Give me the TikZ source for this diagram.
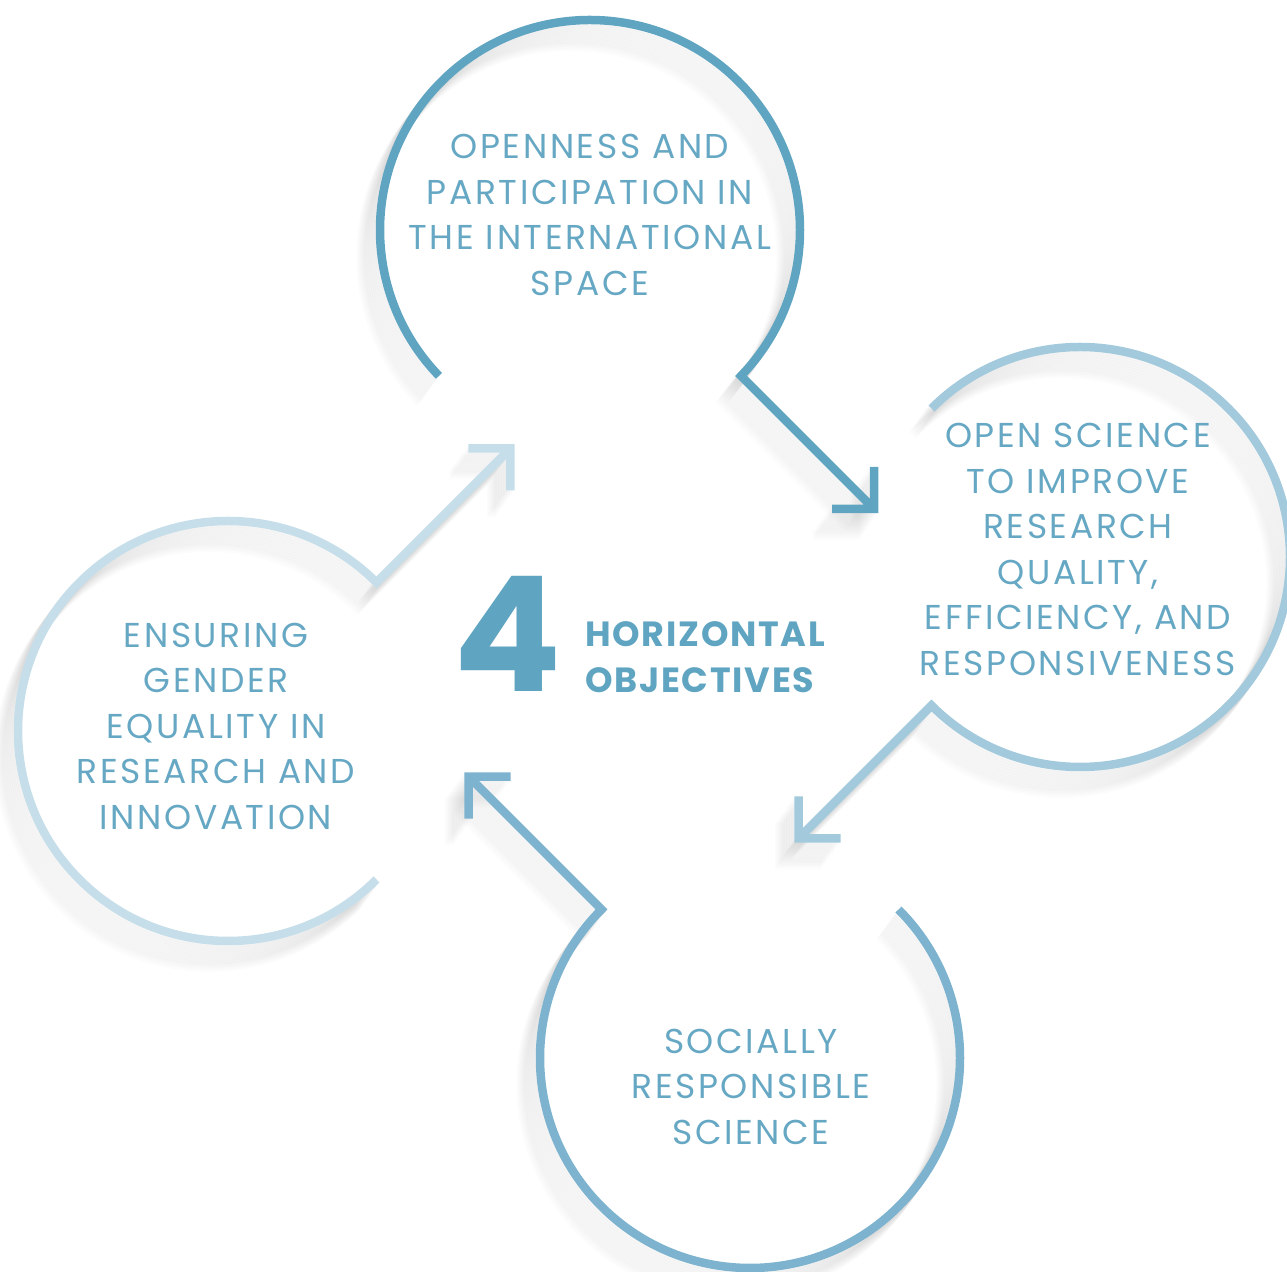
\documentclass[tikz,border=0pt]{standalone}
\usepackage{fontspec}
\setmainfont{Poppins}[UprightFont=*, BoldFont=* Bold, LetterSpace=7.5]
\definecolor{cA}{HTML}{5FA4C1}
\definecolor{cB}{HTML}{A2C9DC}
\definecolor{cC}{HTML}{7DB3CE}
\definecolor{cD}{HTML}{C5DEE9}
\definecolor{txt}{HTML}{66A8C4}
\begin{document}
\begin{tikzpicture}[x=1pt,y=1pt,line join=miter,
  ring/.style={line width=8.5pt},
  shade/.style={line width=9pt,black,opacity=0.011},
  lbl/.style={text=txt,font=\fontsize{34.5}{45.5}\selectfont,align=center,inner sep=0pt,anchor=base}]
\useasboundingbox (0,0) rectangle (1287,1271);
% paths
\def\pathA{(590,1041) ++(224:210) arc[start angle=224,end angle=-44,radius=210] -- ++(133,-133) ++(-42,0) -- ++(42,0) -- ++(0,42)}
\def\pathB{(1080,714) ++(135:210) arc[start angle=135,end angle=-135,radius=210] -- ++(-133,-133) ++(0,42) -- ++(0,-42) -- ++(42,0)}
\def\pathC{(750,213) ++(45:210) arc[start angle=45,end angle=-225,radius=210] -- ++(-133,133) ++(42,0) -- ++(-42,0) -- ++(0,-42)}
\def\pathD{(228,540) ++(-45:210) arc[start angle=-45,end angle=-315,radius=210] -- ++(134,134) ++(-42,0) -- ++(42,0) -- ++(0,-42)}
% shadows
\foreach \k in {1,...,12}{
  \draw[shade,shift={(-1.6*\k,-2.2*\k)}] \pathA;
  \draw[shade,shift={(-1.6*\k,-2.2*\k)}] \pathB;
  \draw[shade,shift={(-1.6*\k,-2.2*\k)}] \pathC;
  \draw[shade,shift={(-1.6*\k,-2.2*\k)}] \pathD;
}
\draw[ring,cA] \pathA;
\draw[ring,cB] \pathB;
\draw[ring,cC] \pathC;
\draw[ring,cD] \pathD;
% texts (anchor base = baseline of last line)
\node[lbl] (tA) at (590,975.5) {OPENNESS AND\\PARTICIPATION IN\\THE INTERNATIONAL\\SPACE};
\node[lbl] (tB) at (1078,595.5) {OPEN SCIENCE\\TO IMPROVE\\RESEARCH\\QUALITY,\\EFFICIENCY, AND\\RESPONSIVENESS};
\node[lbl] (tC) at (751,126.5) {SOCIALLY\\RESPONSIBLE\\SCIENCE};
\node[lbl] (tD) at (216,441.5) {ENSURING\\GENDER\\EQUALITY IN\\RESEARCH AND\\INNOVATION};
\node[text=cA,font=\fontsize{160}{160}\bfseries\addfontfeature{LetterSpace=0}\selectfont,inner sep=0pt,anchor=base] (four) at (508,579) {4};
\node[text=cA,font=\fontsize{35}{46}\bfseries\addfontfeature{LetterSpace=5}\selectfont,align=left,inner sep=0pt,anchor=base west] (hz) at (585,578) {HORIZONTAL\\OBJECTIVES};
\end{tikzpicture}
\end{document}
